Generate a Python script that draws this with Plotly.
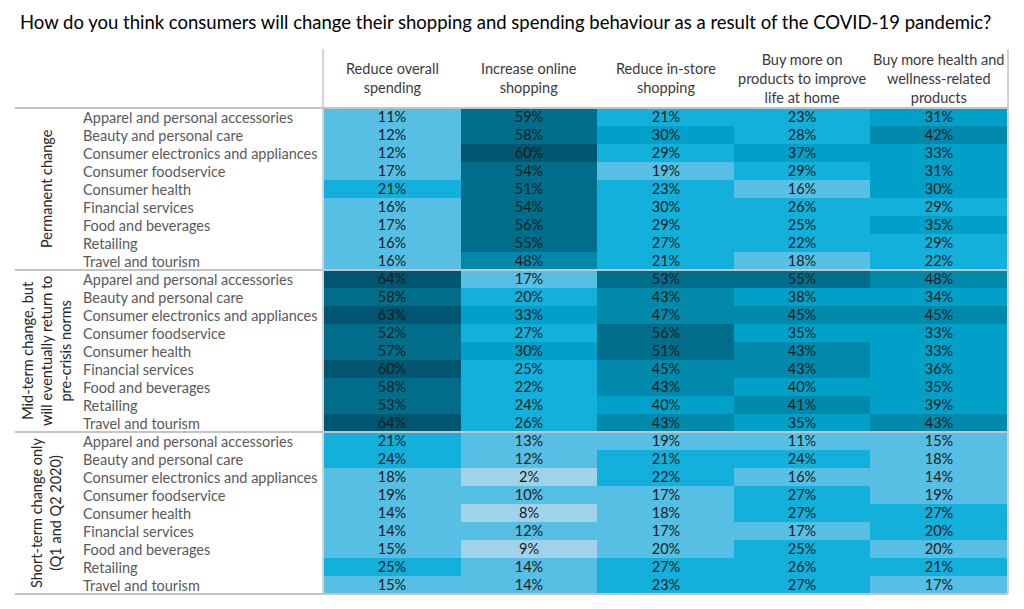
import plotly.graph_objects as go

title = "How do you think consumers will change their shopping and spending behaviour as a result of the COVID-19 pandemic?"

columns = [
    "Reduce overall<br>spending",
    "Increase online<br>shopping",
    "Reduce in-store<br>shopping",
    "Buy more on<br>products to improve<br>life at home",
    "Buy more health and<br>wellness-related<br>products",
]

categories = [
    "Apparel and personal accessories",
    "Beauty and personal care",
    "Consumer electronics and appliances",
    "Consumer foodservice",
    "Consumer health",
    "Financial services",
    "Food and beverages",
    "Retailing",
    "Travel and tourism",
]

groups = [
    "Permanent change",
    "Mid-term change, but<br>will eventually return to<br>pre-crisis norms",
    "Short-term change only<br>(Q1 and Q2 2020)",
]

# values (%) per group, one list per column
permanent_values = [
    [11, 12, 12, 17, 21, 16, 17, 16, 16],
    [59, 58, 60, 54, 51, 54, 56, 55, 48],
    [21, 30, 29, 19, 23, 30, 29, 27, 21],
    [23, 28, 37, 29, 16, 26, 25, 22, 18],
    [31, 42, 33, 31, 30, 29, 35, 29, 22],
]
midterm_values = [
    [64, 58, 63, 52, 57, 60, 58, 53, 64],
    [17, 20, 33, 27, 30, 25, 22, 24, 26],
    [53, 43, 47, 56, 51, 45, 43, 40, 43],
    [55, 38, 45, 35, 43, 43, 40, 41, 35],
    [48, 34, 45, 33, 33, 36, 35, 39, 43],
]
shortterm_values = [
    [21, 24, 18, 19, 14, 14, 15, 25, 15],
    [13, 12, 2, 10, 8, 12, 9, 14, 14],
    [19, 21, 22, 17, 18, 17, 20, 27, 23],
    [11, 24, 16, 27, 27, 17, 25, 26, 27],
    [15, 18, 14, 19, 27, 20, 20, 21, 17],
]

# shading band of each cell (0 = lightest .. 6 = darkest)
permanent_bands = [
    [1, 1, 1, 1, 2, 1, 1, 1, 1],
    [5, 5, 6, 5, 5, 5, 5, 5, 4],
    [2, 3, 2, 1, 2, 2, 2, 2, 2],
    [2, 2, 3, 2, 1, 2, 2, 2, 1],
    [3, 4, 3, 3, 3, 2, 3, 2, 2],
]
midterm_bands = [
    [6, 5, 6, 5, 5, 6, 5, 5, 6],
    [1, 2, 3, 2, 3, 2, 2, 2, 2],
    [5, 4, 4, 5, 5, 4, 4, 3, 4],
    [5, 3, 4, 3, 4, 4, 3, 4, 3],
    [4, 3, 4, 3, 3, 3, 3, 3, 4],
]
shortterm_bands = [
    [2, 2, 1, 1, 1, 1, 1, 2, 1],
    [1, 1, 0, 1, 0, 1, 0, 1, 1],
    [1, 2, 2, 1, 1, 1, 1, 2, 2],
    [1, 2, 1, 2, 2, 1, 2, 2, 2],
    [1, 1, 1, 1, 2, 2, 1, 2, 1],
]

band_colors = ["#A0D2EA", "#56BFE3", "#12B0DB", "#00A0C8", "#0089AB", "#006E8A", "#005670"]

# page has an 8px body margin; figure sized to fit the 1024x609 window
OFF = 8
W, H = 1024 - 2 * OFF, 609 - 2 * OFF
def px(x):
    return (x - OFF) / W
def py(y):
    return 1 - (y - OFF) / H

all_values = [permanent_values, midterm_values, shortterm_values]
all_bands = [permanent_bands, midterm_bands, shortterm_bands]

z, text = [], []
for vals, bands in zip(all_values, all_bands):
    for i in range(len(categories)):
        z.append([bands[c][i] for c in range(len(columns))])
        text.append([f"{vals[c][i]}%" for c in range(len(columns))])

nb = len(band_colors)
colorscale = []
for k, c in enumerate(band_colors):
    colorscale += [[k / nb, c], [(k + 1) / nb, c]]

FS = 14.5
n_rows = len(z)
fig = go.Figure(go.Heatmap(
    z=z,
    x=list(range(len(columns))),
    y=list(range(n_rows)),
    text=text,
    texttemplate="%{text}",
    textfont=dict(family="Lato", size=FS, color="#1a1a1a"),
    colorscale=colorscale,
    zmin=-0.5, zmax=nb - 0.5,
    showscale=False,
    hoverinfo="skip",
))

top, bottom, left, right = 108, 594, 324, 1007

fig.update_layout(
    width=W, height=H,
    margin=dict(l=0, r=0, t=0, b=0),
    paper_bgcolor="white", plot_bgcolor="white",
    xaxis=dict(domain=[px(left), px(right)], visible=False, range=[-0.5, len(columns) - 0.5], fixedrange=True),
    yaxis=dict(domain=[py(bottom), py(top)], visible=False, range=[n_rows - 0.5, -0.5], fixedrange=True),
    font=dict(family="Lato"),
)

annotations = []
annotations.append(dict(
    text=title, xref="paper", yref="paper", x=px(18), y=py(22),
    xanchor="left", yanchor="middle", showarrow=False,
    font=dict(family="Lato", size=18.5, color="#000000"),
))
for j, col in enumerate(columns):
    annotations.append(dict(
        text=col, xref="x", yref="paper", x=j, y=py(78),
        xanchor="center", yanchor="middle", showarrow=False,
        font=dict(family="Lato", size=FS, color="#3a3a3a"),
    ))
row = 0
for g, grp in enumerate(groups):
    start = row
    for cat in categories:
        annotations.append(dict(
            text=cat, xref="paper", yref="y", x=px(81), y=row,
            xanchor="left", yanchor="middle", showarrow=False,
            font=dict(family="Lato", size=FS, color="#595959"),
        ))
        row += 1
    annotations.append(dict(
        text=grp, xref="paper", yref="y", x=px(46), y=(start + row - 1) / 2,
        xanchor="center", yanchor="middle", showarrow=False, textangle=-90,
        font=dict(family="Lato", size=FS, color="#262626"),
    ))

shapes = []
line_col = "#c4c4c4"
for yy in [108, 270, 432, 594]:
    shapes.append(dict(type="line", xref="paper", yref="paper",
                       x0=px(15), x1=px(1008), y0=py(yy), y1=py(yy),
                       line=dict(color=line_col, width=2)))
for xx in [323, 1008]:
    shapes.append(dict(type="line", xref="paper", yref="paper",
                       x0=px(xx), x1=px(xx), y0=py(49), y1=py(594),
                       line=dict(color=line_col, width=1.5)))

fig.update_layout(annotations=annotations, shapes=shapes)
fig.write_html("out.html")
